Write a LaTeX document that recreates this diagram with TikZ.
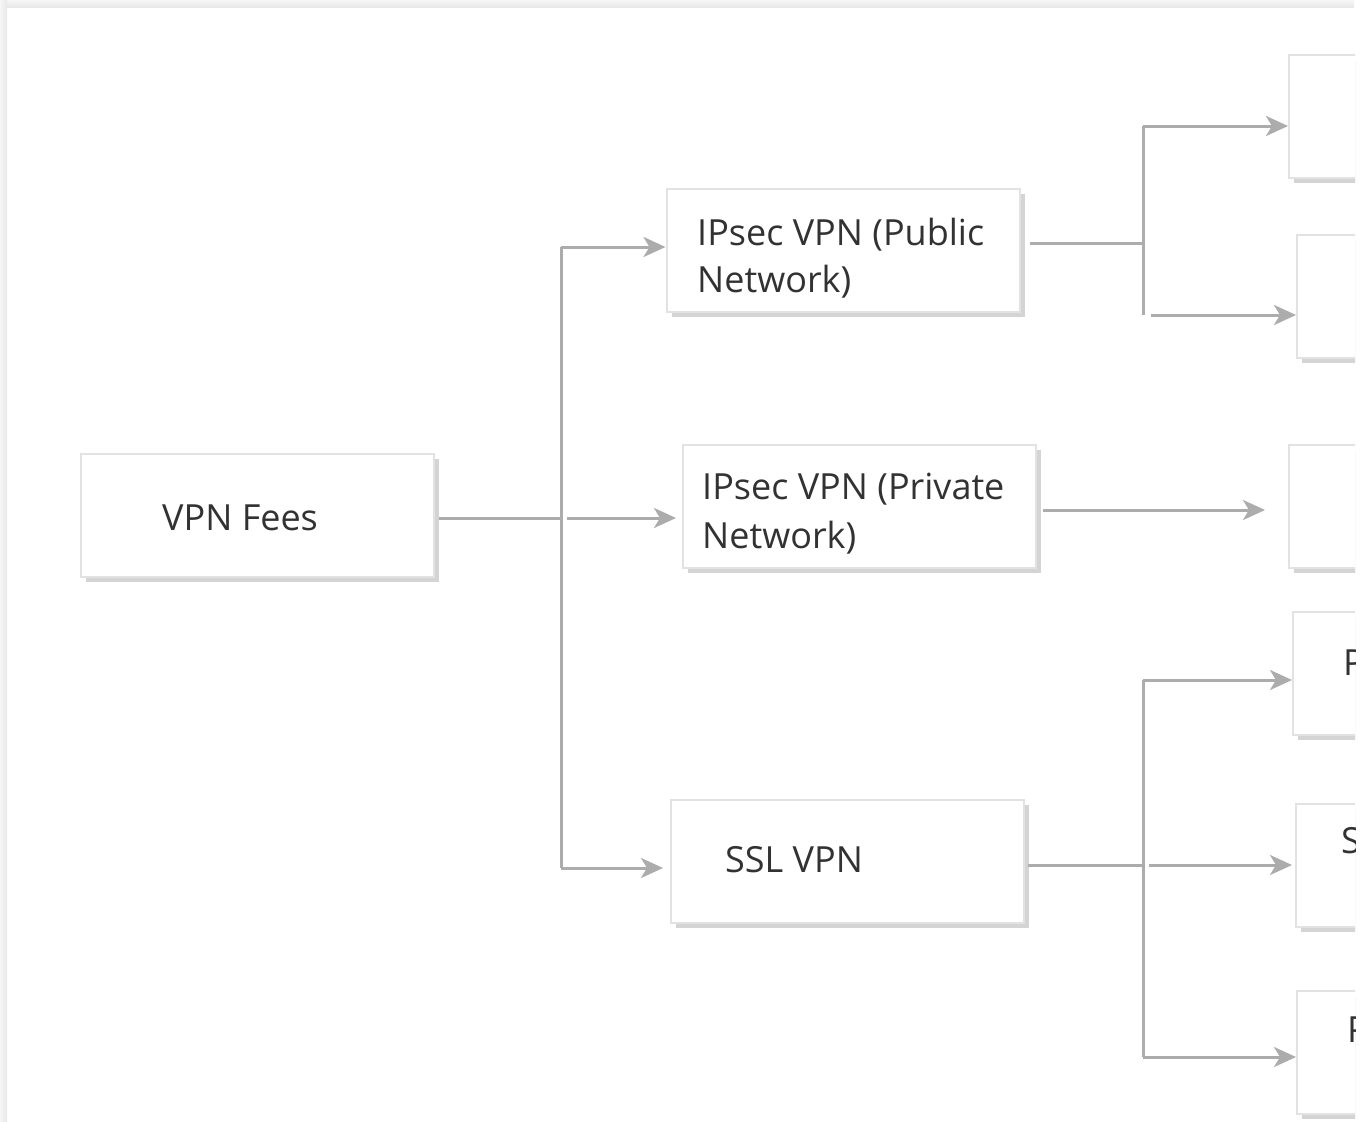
\documentclass[tikz,border=0pt]{standalone}
\usepackage{fontspec}
\setmainfont{Open Sans}
\usetikzlibrary{arrows.meta,shadows}
\definecolor{lineg}{RGB}{172,172,172}
\definecolor{boxb}{RGB}{226,226,226}
\definecolor{shad}{RGB}{212,212,212}
\definecolor{txtc}{RGB}{50,50,50}
\definecolor{framec}{RGB}{232,232,232}
\begin{document}
\begin{tikzpicture}[x=1pt,y=-1pt,
  boxs/.style={draw=boxb, line width=2pt, fill=white, rectangle, inner sep=0pt,
    minimum width=353pt, minimum height=123pt,
    drop shadow={shadow xshift=5pt, shadow yshift=-5pt, fill=shad, opacity=1}},
  ln/.style={draw=lineg, line width=3pt},
  arr/.style={ln, -{Stealth[length=22pt,width=20pt,inset=6pt]}},
  txt/.style={text=txtc, font=\fontsize{36}{48}\selectfont, inner sep=0pt, anchor=base west}]
\useasboundingbox (0,0) rectangle (1366,1122);
\fill[white] (0,0) rectangle (1366,1122);
\shade[top color=framec!40, bottom color=framec] (0,0) rectangle (1354,7);
\shade[left color=framec!40, right color=framec] (0,0) rectangle (7,1122);
\begin{scope}
\clip (7,7) rectangle (1355,1122);
% boxes
\node[boxs] (vpn) at (257.5,515.5) {};
\node[boxs] (pub) at (843,250.5) {};
\node[boxs] (pri) at (859.5,506) {};
\node[boxs] (ssl) at (847.5,861.5) {};
\node[boxs] (r1) at (1465.5,116.5) {};
\node[boxs] (r2) at (1473.5,296) {};
\node[boxs] (r3) at (1465.5,506) {};
\node[boxs] (r4) at (1469.5,673.5) {};
\node[boxs] (r5) at (1472.5,865.5) {};
\node[boxs] (r6) at (1473.5,1052) {};
% texts
\node[txt] (tvpn) at (162,530) {VPN Fees};
\node[txt] (tpub1) at (697,245) {IPsec VPN (Public};
\node[txt] (tpub2) at (697,292) {Network)};
\node[txt] (tpri1) at (702,499) {IPsec VPN (Private};
\node[txt] (tpri2) at (702,548) {Network)};
\node[txt] (tssl) at (725,872) {SSL VPN};
\node[txt] (tr4) at (1343,675) {P};
\node[txt] (tr5) at (1341,853) {S};
\node[txt] (tr6) at (1347,1042) {P};
% junction coordinates
\coordinate (ja) at (561,518);
\coordinate (jt) at (561,247);
\coordinate (jb) at (561,868);
\coordinate (jpa) at (1143,243);
\coordinate (jpt) at (1143,126);
\coordinate (jpb) at (1143,315);
\coordinate (jr) at (1043,510);
\coordinate (jsa) at (1143,865);
\coordinate (jst) at (1143,680);
\coordinate (jsb) at (1143,1057);
% connectors from VPN Fees
\draw[ln, shorten <=4pt] (vpn.east |- ja) -- (ja);
\draw[ln] (jt) -- (jb);
\draw[arr] (jt) -- (pub.west |- jt);
\draw[arr, shorten <=6pt, shorten >=6pt] (ja) -- (pri.west |- ja);
\draw[arr] (jb) -- ([xshift=-7pt]ssl.west |- jb);
% from IPsec public
\draw[ln, shorten <=9pt] (pub.east |- jpa) -- (jpa);
\draw[ln] (jpt) -- (jpb);
\draw[arr] (jpt) -- (r1.west |- jpt);
\draw[arr, shorten <=8pt] (jpb) -- (r2.west |- jpb);
% from IPsec private
\draw[arr, shorten >=23pt] (jr) -- (r3.west |- jr);
% from SSL
\draw[ln, shorten <=3pt] (ssl.east |- jsa) -- (jsa);
\draw[ln] (jst) -- (jsb);
\draw[arr] (jst) -- (r4.west |- jst);
\draw[arr, shorten <=6pt, shorten >=3pt] (jsa) -- (r5.west |- jsa);
\draw[arr] (jsb) -- (r6.west |- jsb);
\end{scope}
\end{tikzpicture}
\end{document}
